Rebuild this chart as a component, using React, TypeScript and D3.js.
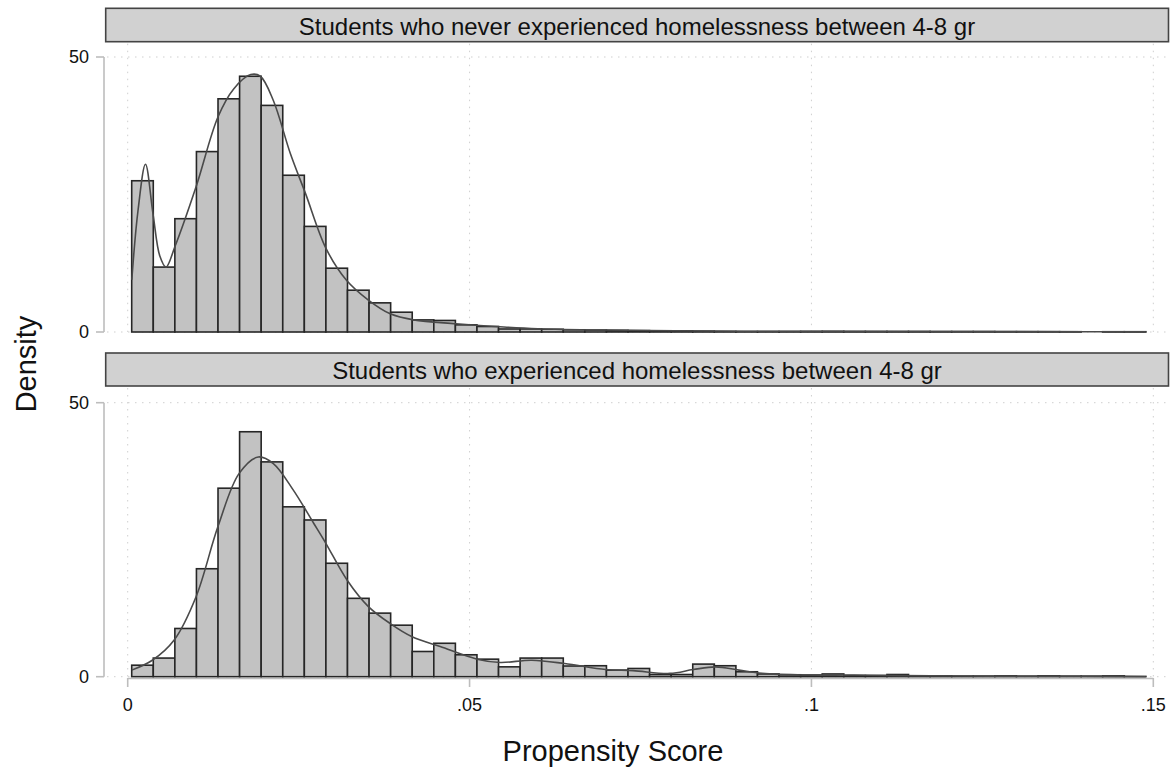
import React from "react";
import * as d3 from "d3";

const BIN_START = 0.000585;
const BIN_WIDTH = 0.003156;

const topTitle = "Students who never experienced homelessness between 4-8 gr";
const bottomTitle = "Students who experienced homelessness between 4-8 gr";

const topDensity = [
  27.5, 11.8, 20.6, 32.8, 42.4, 46.5, 41.2, 28.5, 19.2, 11.6,
  7.6, 5.3, 3.6, 2.2, 2.1, 1.3, 1.0, 0.55, 0.55, 0.5,
  0.4, 0.35, 0.3, 0.25, 0.2, 0.2, 0.15, 0.1, 0.08, 0.08,
  0.08, 0.1, 0.12, 0.1, 0.1, 0.1, 0.1, 0.08, 0.08, 0.08,
  0.06, 0.06, 0.06, 0.05, 0, 0.05, 0.05,
];

const bottomDensity = [
  2.1, 3.4, 8.8, 19.7, 34.4, 44.7, 39.2, 31.0, 28.6, 20.7,
  14.3, 11.6, 9.4, 4.6, 6.1, 4.0, 3.2, 1.8, 3.4, 3.4,
  1.95, 2.0, 1.2, 1.5, 0.4, 0.4, 2.3, 2.0, 0.9, 0.5,
  0.35, 0.3, 0.5, 0.2, 0.2, 0.4, 0.15, 0.15, 0.1, 0.1,
  0.15, 0.1, 0.15, 0.1, 0.1, 0.15, 0.05,
];

const topKdeX = [0.0006, 0.0015, 0.0026, 0.0037, 0.0047, 0.0056, 0.0069, 0.0100, 0.0132, 0.0155, 0.0180, 0.0194, 0.0213, 0.0238, 0.0260, 0.0290, 0.0320, 0.0352, 0.0384, 0.0418, 0.048, 0.055, 0.06, 0.07, 0.08, 0.09, 0.1, 0.12, 0.14, 0.1489];
const topKdeY = [9.5, 22, 30.5, 21.5, 13.8, 11.8, 15.5, 26.4, 39.1, 44.2, 46.8, 46.5, 42.1, 32.4, 25.2, 15.2, 9.4, 5.8, 3.3, 2.2, 1.5, 0.9, 0.6, 0.35, 0.22, 0.15, 0.12, 0.08, 0.05, 0.03];

const bottomKdeX = [0.00059, 0.0036, 0.0068, 0.0100, 0.0132, 0.0163, 0.0191, 0.0213, 0.0242, 0.0272, 0.0290, 0.0321, 0.0352, 0.0384, 0.0416, 0.0457, 0.0511, 0.0545, 0.0591, 0.0639, 0.0699, 0.0739, 0.0793, 0.0827, 0.0860, 0.0894, 0.0928, 0.0995, 0.1063, 0.113, 0.126, 0.14, 0.1489];
const bottomKdeY = [1.2, 3.0, 6.7, 14.6, 27.4, 37.1, 40.1, 38.9, 34.1, 28.0, 24.3, 17.6, 12.8, 9.7, 7.3, 5.5, 3.2, 2.6, 3.0, 2.4, 1.3, 1.1, 0.6, 1.3, 1.8, 1.2, 0.6, 0.3, 0.3, 0.2, 0.1, 0.08, 0.0];

const xTicks = [0, 0.05, 0.1, 0.15];
const xTickLabels = ["0", ".05", ".1", ".15"];
const yTicks = [0, 50];
const yTickLabels = ["0", "50"];

const FONT = "'Liberation Sans', Arial, sans-serif";

const x = d3.scaleLinear().domain([0, 0.15]).range([127.7, 1153.3]);

type PanelProps = {
  title: string;
  density: number[];
  kdeX: number[];
  kdeY: number[];
  y: d3.ScaleLinear<number, number>;
  stripTop: number;
  stripBottom: number;
};

function Panel({ title, density, kdeX, kdeY, y, stripTop, stripBottom }: PanelProps) {
  const line = d3
    .line<number>()
    .x((_, i) => x(kdeX[i]))
    .y((d) => y(d))
    .curve(d3.curveCatmullRom.alpha(0.5));
  return (
    <g>
      <rect
        x={105.7}
        y={stripTop}
        width={1168.5 - 105.7}
        height={stripBottom - stripTop}
        fill="#d1d1d1"
        stroke="#444"
        strokeWidth={1.6}
      />
      <text
        x={637}
        y={(stripTop + stripBottom) / 2 + 1}
        textAnchor="middle"
        dominantBaseline="central"
        fontFamily={FONT}
        fontSize={24}
        fill="#111"
      >
        {title}
      </text>
      {yTicks.map((t) => (
        <line
          key={"hg" + t}
          x1={107}
          x2={1170}
          y1={y(t)}
          y2={y(t)}
          stroke="#cfcfcf"
          strokeWidth={1}
          strokeDasharray="1.5,5.5"
        />
      ))}
      {xTicks.map((t) => (
        <line
          key={"vg" + t}
          x1={x(t)}
          x2={x(t)}
          y1={stripBottom + 2}
          y2={y(0)}
          stroke="#cfcfcf"
          strokeWidth={1}
          strokeDasharray="1.5,5.5"
        />
      ))}
      <line x1={104} x2={104} y1={y(0)} y2={y(50)} stroke="#bdbdbd" strokeWidth={1.6} />
      {yTicks.map((t, i) => (
        <g key={"yt" + t}>
          <line x1={96} x2={104} y1={y(t)} y2={y(t)} stroke="#bdbdbd" strokeWidth={1.6} />
          <text
            x={89}
            y={y(t)}
            textAnchor="end"
            dominantBaseline="central"
            fontFamily={FONT}
            fontSize={18}
            fill="#111"
          >
            {yTickLabels[i]}
          </text>
        </g>
      ))}
      {density.map((d, i) => {
        const x0 = x(BIN_START + i * BIN_WIDTH);
        const x1 = x(BIN_START + (i + 1) * BIN_WIDTH);
        return (
          <rect
            key={"b" + i}
            x={x0}
            y={y(d)}
            width={x1 - x0}
            height={y(0) - y(d)}
            fill="#c2c2c2"
            stroke="#262626"
            strokeWidth={1.6}
          />
        );
      })}
      <path d={line(kdeY) || ""} fill="none" stroke="#4a4a4a" strokeWidth={1.6} />
    </g>
  );
}

export default function App() {
  const yTop = d3.scaleLinear().domain([0, 50]).range([332, 57]);
  const yBottom = d3.scaleLinear().domain([0, 50]).range([676.7, 402.7]);
  return (
    <svg
      width={1175}
      height={772}
      style={{ position: "absolute", left: 0, top: 0, background: "#fff" }}
    >
      <rect width={1175} height={772} fill="#fff" />
      <Panel
        title={topTitle}
        density={topDensity}
        kdeX={topKdeX}
        kdeY={topKdeY}
        y={yTop}
        stripTop={8.3}
        stripBottom={41.7}
      />
      <Panel
        title={bottomTitle}
        density={bottomDensity}
        kdeX={bottomKdeX}
        kdeY={bottomKdeY}
        y={yBottom}
        stripTop={353}
        stripBottom={386}
      />
      <line x1={x(0)} x2={x(0.15)} y1={678.5} y2={678.5} stroke="#bdbdbd" strokeWidth={1.4} />
      {xTicks.map((t, i) => (
        <g key={"xt" + t}>
          <line x1={x(t)} x2={x(t)} y1={678} y2={687} stroke="#bdbdbd" strokeWidth={1.6} />
          <text
            x={x(t)}
            y={711}
            textAnchor="middle"
            fontFamily={FONT}
            fontSize={18}
            fill="#111"
          >
            {xTickLabels[i]}
          </text>
        </g>
      ))}
      <text x={613} y={761} textAnchor="middle" fontFamily={FONT} fontSize={29} fill="#111">
        Propensity Score
      </text>
      <text
        transform="translate(36,364) rotate(-90)"
        textAnchor="middle"
        fontFamily={FONT}
        fontSize={29}
        fill="#111"
      >
        Density
      </text>
    </svg>
  );
}
